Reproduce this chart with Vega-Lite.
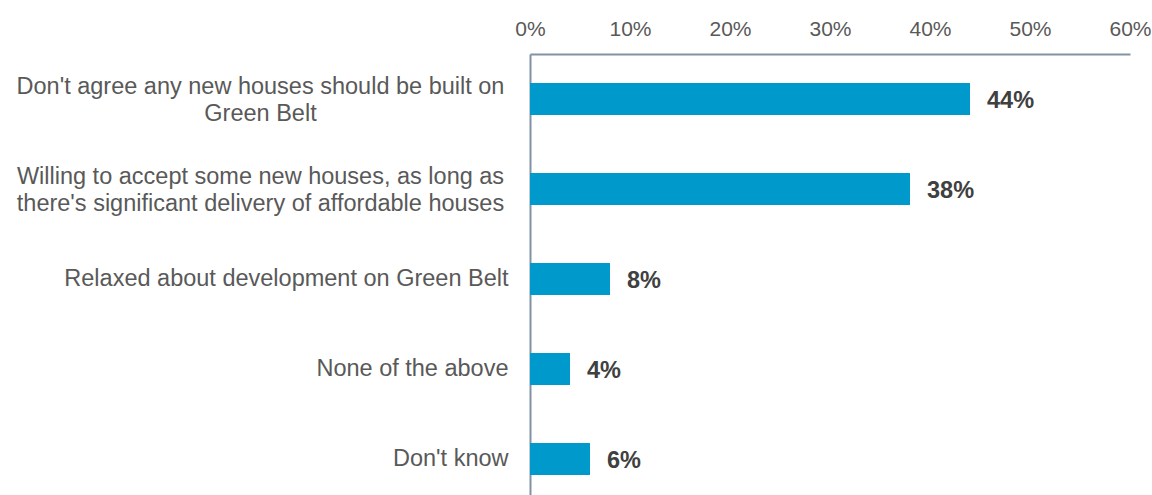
{
  "$schema": "https://vega.github.io/schema/vega-lite/v6.json",
  "width": 600,
  "height": 441,
  "autosize": "none",
  "padding": {"left": 530, "top": 54, "right": 22, "bottom": 0},
  "background": "white",
  "data": {
    "values": [
      {"cat": "Don't agree any new houses should be built on|Green Belt", "value": 0.44, "text": "44%"},
      {"cat": "Willing to accept some new houses, as long as|there's significant delivery of affordable houses", "value": 0.38, "text": "38%"},
      {"cat": "Relaxed about development on Green Belt", "value": 0.08, "text": "8%"},
      {"cat": "None of the above", "value": 0.04, "text": "4%"},
      {"cat": "Don't know", "value": 0.06, "text": "6%"}
    ]
  },
  "encoding": {
    "y": {
      "field": "cat",
      "type": "nominal",
      "sort": null,
      "scale": {"paddingInner": 0.644, "paddingOuter": 0.272, "align": 0.59},
      "axis": {
        "title": null,
        "ticks": false,
        "labelExpr": "split(datum.value, '|')",
        "labelFont": "Liberation Sans",
        "labelFontSize": 23.5,
        "labelColor": "#595959",
        "labelLineHeight": 27,
        "labelLimit": 600,
        "labelAlign": {"condition": {"test": "indexof(datum.value, '|') >= 0", "value": "center"}, "value": "right"},
        "labelPadding": {"condition": {"test": "indexof(datum.value, '|') >= 0", "value": 270}, "value": 22},
        "labelOffset": {"condition": {"test": "indexof(datum.value, '|') >= 0", "value": -12}, "value": 0},
        "domainColor": "#8292a3",
        "domainWidth": 2
      }
    }
  },
  "layer": [
    {
      "mark": {"type": "bar", "color": "#0099cc"},
      "encoding": {
        "x": {
          "field": "value",
          "type": "quantitative",
          "scale": {"domain": [0, 0.6]},
          "axis": {
            "orient": "top",
            "title": null,
            "format": ".0%",
            "values": [0, 0.1, 0.2, 0.3, 0.4, 0.5, 0.6],
            "grid": false,
            "ticks": false,
            "labelFont": "Liberation Sans",
            "labelFontSize": 21,
            "labelColor": "#595959",
            "labelPadding": 15,
            "labelFlush": false,
            "domainColor": "#8292a3",
            "domainWidth": 2
          }
        }
      }
    },
    {
      "mark": {"type": "text", "align": "left", "baseline": "middle", "dx": 17, "dy": 2, "font": "Liberation Sans", "fontSize": 23.5, "fontWeight": "bold", "color": "#404040"},
      "encoding": {
        "x": {"field": "value", "type": "quantitative"},
        "text": {"field": "text"}
      }
    }
  ],
  "config": {"view": {"stroke": null}}
}
